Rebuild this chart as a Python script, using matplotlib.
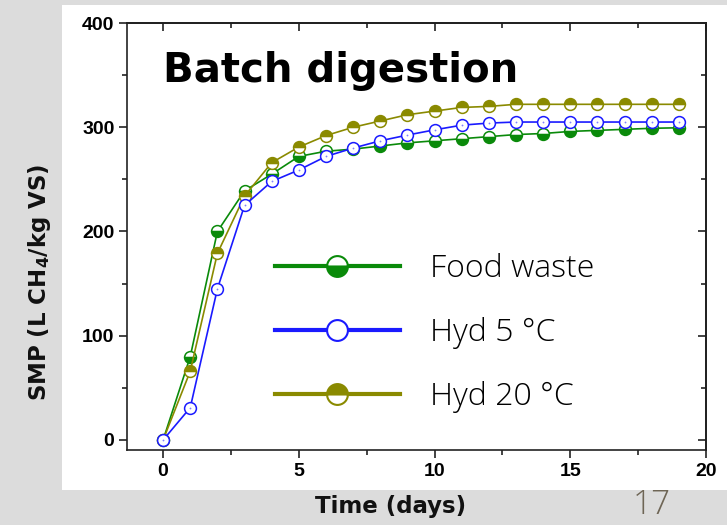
import matplotlib
matplotlib.use("Agg")
import matplotlib.pyplot as plt
from matplotlib.lines import Line2D
from matplotlib.patches import Rectangle
from matplotlib.ticker import MultipleLocator

# Cumulative specific methane production per day
days = list(range(20))
food_waste = [0, 80, 200, 239, 255, 272, 277, 279, 282, 285, 287, 289, 291, 293, 294, 296, 297, 298, 299, 299.5]
hyd_5 = [0, 31, 145, 225, 248, 259, 272, 280, 287, 292.5, 297.5, 302, 304, 305, 305, 305, 305, 305, 305, 305]
hyd_20 = [0, 66, 179, 234, 266, 281, 292, 300, 306, 312, 315.5, 319, 320, 322, 322, 322, 322, 322, 322, 322]
series_names = ["Food waste", "Hyd 5 °C", "Hyd 20 °C"]

GREEN = "#0a8a0a"
BLUE = "#1a1aff"
OLIVE = "#8a8a00"

W, H = 727, 525
fig = plt.figure(figsize=(W / 100, H / 100), dpi=100, facecolor="#dcdcdc")
fig.patches.append(Rectangle((62 / W, 1 - 490 / H), 1 - 62 / W, (490 - 5) / H,
                             transform=fig.transFigure, facecolor="white",
                             edgecolor="none", zorder=-5))

ax = fig.add_axes([127 / W, 1 - 450 / H, (706 - 127) / W, (450 - 23) / H])
ax.set_zorder(2)
ax.set_facecolor("white")

ax.plot(days, food_waste, color=GREEN, lw=1.2, marker="o", ms=8.5, mew=1.1,
        fillstyle="bottom", markerfacecolor=GREEN, markerfacecoloralt="white",
        markeredgecolor=GREEN, zorder=3)
ax.plot(days, hyd_5, color=BLUE, lw=1.2, marker="o", ms=8.5, mew=1.1,
        markerfacecolor="white", markeredgecolor=BLUE, zorder=4)
ax.plot(days, hyd_5, ls="none", marker="o", ms=1.3, mew=0,
        markerfacecolor="#8080ff", zorder=5)
ax.plot(days, hyd_20, color=OLIVE, lw=1.2, marker="o", ms=8.5, mew=1.1,
        fillstyle="top", markerfacecolor=OLIVE, markerfacecoloralt="white",
        markeredgecolor=OLIVE, zorder=3)

ax.set_xlim(-1.33, 20)
ax.set_ylim(-9.6, 400)
ax.xaxis.set_major_locator(MultipleLocator(5))
ax.xaxis.set_minor_locator(MultipleLocator(2.5))
ax.yaxis.set_major_locator(MultipleLocator(100))
ax.yaxis.set_minor_locator(MultipleLocator(50))

for s in ax.spines.values():
    s.set_linewidth(1.2)
    s.set_color("#222222")

tick_font = {"family": "Liberation Sans", "weight": "bold", "size": 14}
ax.tick_params(which="major", direction="out", length=6, width=1.2, color="#222222", pad=3)
ax.tick_params(which="minor", direction="out", length=3.5, width=1.2, color="#222222")
for lab in ax.get_xticklabels() + ax.get_yticklabels():
    lab.set_fontproperties(tick_font)

# inward ticks on top and right
top = ax.secondary_xaxis("top")
top.xaxis.set_major_locator(MultipleLocator(5))
top.xaxis.set_minor_locator(MultipleLocator(2.5))
top.tick_params(which="major", direction="in", length=6, width=1.2, color="#222222", labeltop=False)
top.tick_params(which="minor", direction="in", length=3.5, width=1.2, color="#222222")
top.spines["top"].set_linewidth(1.2)
right = ax.secondary_yaxis("right")
right.yaxis.set_major_locator(MultipleLocator(100))
right.yaxis.set_minor_locator(MultipleLocator(50))
right.tick_params(which="major", direction="in", length=6, width=1.2, color="#222222", labelright=False)
right.tick_params(which="minor", direction="in", length=3.5, width=1.2, color="#222222")
right.spines["right"].set_linewidth(1.2)

label_font = {"family": "DejaVu Sans", "weight": "bold", "size": 16.5}
fig.text(40 / W, 1 - 282 / H, "SMP (L CH$_\\mathbf{4}$/kg VS)", rotation=90,
         ha="center", va="center", fontdict=label_font, color="#111111")
fig.text(391 / W, 1 - 507 / H, "Time (days)", ha="center", va="center",
         fontdict=label_font, color="#111111")

ax.text((163 - 127) / 579, (450 - 82) / 427, "Batch digestion", transform=ax.transAxes,
        ha="left", va="baseline", fontsize=29, fontweight="bold", family="DejaVu Sans",
        color="black")

handles = [
    Line2D([], [], color=GREEN, lw=3, marker="o", ms=15, mew=1.5, fillstyle="bottom",
           markerfacecolor=GREEN, markerfacecoloralt="white", markeredgecolor=GREEN),
    Line2D([], [], color=BLUE, lw=3, marker="o", ms=15, mew=1.5,
           markerfacecolor="white", markeredgecolor=BLUE),
    Line2D([], [], color=OLIVE, lw=3, marker="o", ms=15, mew=1.5, fillstyle="top",
           markerfacecolor=OLIVE, markerfacecoloralt="white", markeredgecolor=OLIVE),
]
ax.legend(handles, series_names, loc="center left",
          bbox_to_anchor=((275 - 127) / 579, (450 - 333) / 427),
          frameon=False, prop={"family": "Open Sans", "size": 23, "weight": "light"},
          handlelength=3.9, handletextpad=0.95, labelspacing=1.0,
          borderpad=0, borderaxespad=0)

fig.text(652 / W, 1 - 505 / H, "17", ha="center", va="center", fontsize=24,
         family="Open Sans", weight="light", color="#6e6555")

fig.savefig("out.png", dpi=100, facecolor=fig.get_facecolor())
